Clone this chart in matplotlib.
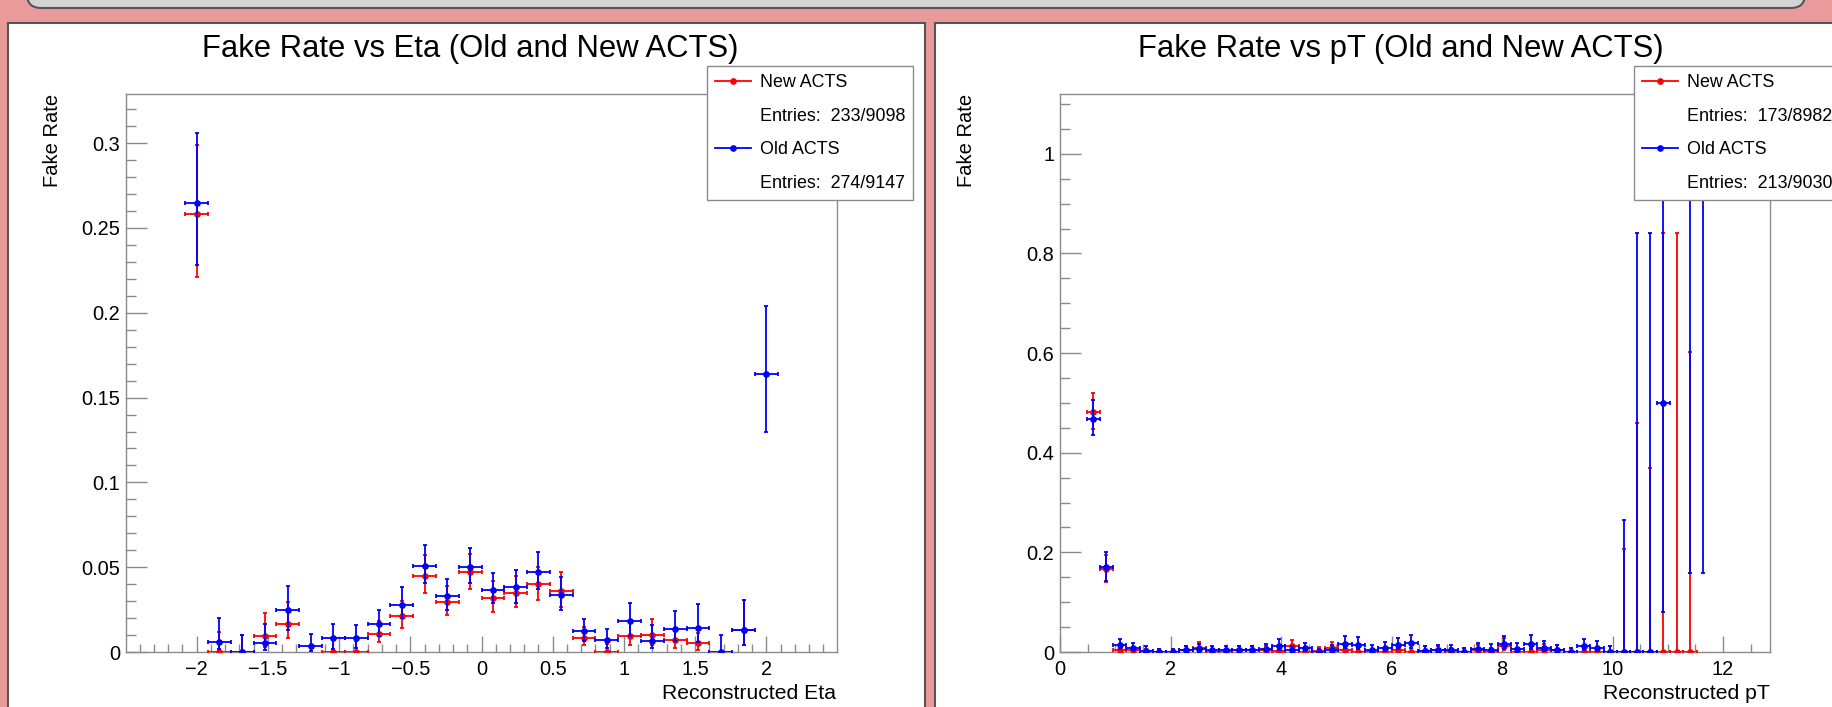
import numpy as np
import matplotlib
matplotlib.use('Agg')
import matplotlib.pyplot as plt
from matplotlib.patches import Rectangle, FancyBboxPatch
from matplotlib.lines import Line2D
from matplotlib.ticker import MultipleLocator, FuncFormatter
from matplotlib.transforms import IdentityTransform

plt.rcParams['font.family'] = ['Liberation Sans', 'DejaVu Sans']

# ---------------- data: fake rate vs eta ----------------
eta_centers = [-2.00, -1.84, -1.68, -1.52, -1.36, -1.20, -1.04, -0.88, -0.72, -0.56,
               -0.40, -0.24, -0.08, 0.08, 0.24, 0.40, 0.56, 0.72, 0.88, 1.04,
               1.20, 1.36, 1.52, 1.68, 1.84, 2.00]
eta_halfwidth = 0.08

eta_old = [0.265, 0.0060, 0.0, 0.0052, 0.0249, 0.0033, 0.0084, 0.0082, 0.0167, 0.0278,
           0.0506, 0.0331, 0.0502, 0.0368, 0.0384, 0.0470, 0.0339, 0.0122, 0.0069, 0.0181,
           0.0063, 0.0134, 0.0142, 0.0, 0.0132, 0.164]
eta_old_up = [0.041, 0.014, 0.0098, 0.0112, 0.014, 0.0075, 0.0083, 0.0078, 0.0082, 0.0108,
              0.0122, 0.0098, 0.0112, 0.0097, 0.0098, 0.0117, 0.0104, 0.0075, 0.0069, 0.0108,
              0.0094, 0.0106, 0.0143, 0.0098, 0.0177, 0.040]
eta_old_dn = [0.037, 0.004, 0.0, 0.0042, 0.012, 0.0029, 0.0064, 0.006, 0.0073, 0.0078,
              0.0102, 0.0081, 0.0098, 0.0079, 0.0093, 0.0096, 0.0089, 0.0059, 0.0045, 0.0087,
              0.0039, 0.0071, 0.0082, 0.0, 0.0089, 0.034]

eta_new = [0.258, 0.0, 0.0, 0.0096, 0.0167, np.nan, 0.0, 0.0, 0.0108, 0.0212,
           0.0449, 0.0295, 0.0469, 0.0319, 0.0348, 0.0398, 0.0358, 0.0083, 0.0, 0.0094,
           0.0098, 0.0069, 0.0055, np.nan, 0.0132, np.nan]
eta_new_up = [0.041, 0.0115, 0.0098, 0.0133, 0.013, 0.0, 0.0069, 0.0063, 0.0074, 0.0086,
              0.012, 0.0095, 0.0106, 0.0101, 0.0099, 0.0104, 0.0111, 0.0065, 0.005, 0.0083,
              0.0099, 0.0069, 0.0057, 0.0, 0.0177, 0.0]
eta_new_dn = [0.037, 0.0, 0.0, 0.0066, 0.0085, 0.0, 0.0, 0.0, 0.0049, 0.0071,
              0.0099, 0.0078, 0.0095, 0.0083, 0.0082, 0.0093, 0.0092, 0.0044, 0.0, 0.0055,
              0.0058, 0.0045, 0.0041, 0.0, 0.0089, 0.0]

# ---------------- data: fake rate vs pT ----------------
pt_centers = [0.60, 0.84, 1.08, 1.32, 1.56, 1.80, 2.04, 2.28, 2.52, 2.76,
              3.00, 3.24, 3.48, 3.72, 3.96, 4.20, 4.44, 4.68, 4.92, 5.16,
              5.40, 5.64, 5.88, 6.12, 6.36, 6.60, 6.84, 7.08, 7.32, 7.56,
              7.80, 8.04, 8.28, 8.52, 8.76, 9.00, 9.24, 9.48, 9.72, 9.96,
              10.20, 10.44, 10.68, 10.92, 11.16, 11.40, 11.64]
pt_halfwidth = 0.12

pt_old = [0.468, 0.170, 0.014, 0.009, 0.003, 0.0, 0.0, 0.004, 0.006, 0.004,
          0.004, 0.004, 0.004, 0.007, 0.013, 0.004, 0.008, 0.0, 0.005, 0.017,
          0.015, 0.004, 0.009, 0.014, 0.018, 0.003, 0.004, 0.004, 0.0, 0.007,
          0.005, 0.016, 0.006, 0.017, 0.009, 0.004, 0.0, 0.012, 0.009, 0.0,
          0.0, 0.0, 0.0, 0.500, np.nan, 1.0, 1.0]
pt_old_up = [0.037, 0.031, 0.013, 0.010, 0.009, 0.006, 0.006, 0.009, 0.010, 0.009,
             0.009, 0.009, 0.009, 0.010, 0.013, 0.009, 0.011, 0.007, 0.009, 0.015,
             0.015, 0.010, 0.012, 0.014, 0.016, 0.010, 0.010, 0.010, 0.008, 0.012,
             0.011, 0.016, 0.012, 0.017, 0.013, 0.011, 0.009, 0.015, 0.014, 0.013,
             0.265, 0.841, 0.841, 0.419, 0.0, 0.0, 0.0]
pt_old_dn = [0.033, 0.028, 0.007, 0.005, 0.003, 0.0, 0.0, 0.003, 0.005, 0.003,
             0.003, 0.003, 0.003, 0.005, 0.008, 0.003, 0.006, 0.0, 0.004, 0.009,
             0.009, 0.003, 0.006, 0.008, 0.010, 0.003, 0.003, 0.003, 0.0, 0.005,
             0.004, 0.009, 0.005, 0.010, 0.006, 0.003, 0.0, 0.008, 0.007, 0.0,
             0.0, 0.0, 0.0, 0.419, 0.0, 0.841, 0.841]

pt_new = [0.482, 0.167, 0.005, 0.004, 0.0, 0.0, 0.0, 0.004, 0.009, 0.0,
          0.0, 0.004, 0.004, 0.004, 0.003, 0.012, 0.0, 0.003, 0.009, 0.004,
          0.0, 0.0, 0.0, 0.004, 0.0, 0.003, 0.004, 0.0, 0.0, 0.005,
          0.0, 0.013, 0.0, 0.0, 0.005, 0.004, 0.0, 0.0, 0.0, 0.0,
          0.0, 0.0, 0.0, 0.0, 0.0, 0.0, np.nan]
pt_new_up = [0.037, 0.028, 0.007, 0.006, 0.006, 0.006, 0.005, 0.008, 0.012, 0.006,
             0.006, 0.008, 0.008, 0.008, 0.008, 0.012, 0.007, 0.008, 0.011, 0.009,
             0.007, 0.007, 0.007, 0.009, 0.008, 0.009, 0.009, 0.008, 0.008, 0.010,
             0.008, 0.015, 0.009, 0.009, 0.011, 0.011, 0.009, 0.010, 0.010, 0.012,
             0.206, 0.460, 0.370, 0.841, 0.841, 0.602, 0.0]
pt_new_dn = [0.034, 0.026, 0.003, 0.003, 0.0, 0.0, 0.0, 0.003, 0.006, 0.0,
             0.0, 0.003, 0.003, 0.003, 0.003, 0.007, 0.0, 0.003, 0.006, 0.003,
             0.0, 0.0, 0.0, 0.003, 0.0, 0.003, 0.003, 0.0, 0.0, 0.004,
             0.0, 0.008, 0.0, 0.0, 0.004, 0.003, 0.0, 0.0, 0.0, 0.0,
             0.0, 0.0, 0.0, 0.0, 0.0, 0.0, 0.0]

titles = ['Fake Rate vs Eta (Old and New ACTS)', 'Fake Rate vs pT (Old and New ACTS)']
xlabels = ['Reconstructed Eta', 'Reconstructed pT']
ylabel = 'Fake Rate'
series_names = ['New ACTS', 'Old ACTS']
entries_eta = ['Entries:  233/9098', 'Entries:  274/9147']
entries_pt = ['Entries:  173/8982', 'Entries:  213/9030']

# ---------------- styling ----------------
W, H = 1832, 707
PINK = '#e99a9a'
RED = '#ff0000'
BLUE = '#0000ff'
FRAME = '#8a8a8a'

fig = plt.figure(figsize=(W / 100, H / 100), dpi=100)
fig.patch.set_facecolor(PINK)


def frac(x0, y0, x1, y1):
    return [x0 / W, 1 - y1 / H, (x1 - x0) / W, (y1 - y0) / H]


# header box (rounded, mostly off-canvas)
hdr = FancyBboxPatch((27, H - 8), 1805 - 27, 60, boxstyle='round,pad=0,rounding_size=14',
                     transform=IdentityTransform(), facecolor='#d4d4d4',
                     edgecolor='#555555', linewidth=1.5, zorder=-5)
fig.patches.append(hdr)

# white pads
for (x0, x1) in [(8, 925), (935, 1860)]:
    r = Rectangle((x0 / W, -0.05), (x1 - x0) / W, (H - 23) / H + 0.05,
                  transform=fig.transFigure, facecolor='white', edgecolor='#555555',
                  linewidth=1.5, zorder=-5)
    fig.patches.append(r)


def fmt(v, _):
    s = '%g' % round(v, 6)
    if s == '-0':
        s = '0'
    return s.replace('-', '\u2212')


def style(ax, xlim, ylim, xmaj, xmin_, ymaj, ymin_):
    ax.set_xlim(*xlim)
    ax.set_ylim(*ylim)
    ax.xaxis.set_major_locator(MultipleLocator(xmaj))
    ax.xaxis.set_minor_locator(MultipleLocator(xmin_))
    ax.yaxis.set_major_locator(MultipleLocator(ymaj))
    ax.yaxis.set_minor_locator(MultipleLocator(ymin_))
    ax.xaxis.set_major_formatter(FuncFormatter(fmt))
    ax.yaxis.set_major_formatter(FuncFormatter(fmt))
    ax.tick_params(which='both', direction='in', top=False, right=False,
                   color=FRAME, width=1.0, labelsize=14.4, labelcolor='black')
    ax.tick_params(axis='y', which='major', length=15.0, pad=4)
    ax.tick_params(axis='y', which='minor', length=7.5)
    ax.tick_params(axis='x', which='major', length=11.8, pad=6)
    ax.tick_params(axis='x', which='minor', length=5.9)
    for s in ax.spines.values():
        s.set_color(FRAME)
        s.set_linewidth(1.0)
    ax.set_facecolor('none')


def draw(ax, x, y, dn, up, hw, color, z):
    x = np.asarray(x, float)
    y = np.asarray(y, float)
    dn = np.asarray(dn, float)
    up = np.asarray(up, float)
    m = ~np.isnan(y)
    ax.errorbar(x[m], y[m], xerr=hw, yerr=[dn[m], up[m]], fmt='o', ms=3.8,
                color=color, ecolor=color, elinewidth=1.3, capsize=1.6,
                capthick=1.3, zorder=z)


def legend(ax, x0, y0, entries):
    handles = [Line2D([], [], color=RED, lw=1.3, marker='o', ms=3.8),
               Line2D([], [], color='none'),
               Line2D([], [], color=BLUE, lw=1.3, marker='o', ms=3.8),
               Line2D([], [], color='none')]
    labels = [series_names[0], entries[0], series_names[1], entries[1]]
    leg = ax.legend(handles, labels, loc='upper left',
                    bbox_to_anchor=(x0 / W, 1 - y0 / H), bbox_transform=fig.transFigure,
                    frameon=True, fancybox=False, edgecolor=FRAME, framealpha=1,
                    fontsize=12.9, handlelength=2.0, handletextpad=0.5,
                    borderpad=0.45, labelspacing=0.92, borderaxespad=0, numpoints=1)
    leg.get_frame().set_linewidth(1.0)
    leg.set_zorder(20)


# ---------------- left: eta ----------------
axL = fig.add_axes(frac(126, 94, 837, 652))
style(axL, (-2.496, 2.496), (0, 0.329), 0.5, 0.1, 0.05, 0.01)
draw(axL, eta_centers, eta_new, eta_new_dn, eta_new_up, eta_halfwidth, RED, 3)
draw(axL, eta_centers, eta_old, eta_old_dn, eta_old_up, eta_halfwidth, BLUE, 4)
legend(axL, 707, 66, entries_eta)

# ---------------- right: pT ----------------
axR = fig.add_axes(frac(1060, 94, 1770, 652))
style(axR, (0, 12.85), (0, 1.12), 2, 0.5, 0.2, 0.05)
draw(axR, pt_centers, pt_new, pt_new_dn, pt_new_up, pt_halfwidth, RED, 3)
draw(axR, pt_centers, pt_old, pt_old_dn, pt_old_up, pt_halfwidth, BLUE, 4)
legend(axR, 1634, 66, entries_pt)

# ---------------- texts ----------------
fig.text(470 / W, 1 - 57 / H, titles[0], ha='center', va='baseline', fontsize=22.3)
fig.text(1401 / W, 1 - 57 / H, titles[1], ha='center', va='baseline', fontsize=22.3)
fig.text(836 / W, 1 - 699 / H, xlabels[0], ha='right', va='baseline', fontsize=15.2)
fig.text(1770 / W, 1 - 699 / H, xlabels[1], ha='right', va='baseline', fontsize=15.2)
fig.text(52 / W, 1 - 94 / H, ylabel, rotation=90, ha='center', va='top', fontsize=14.5)
fig.text(967 / W, 1 - 94 / H, ylabel, rotation=90, ha='center', va='top', fontsize=14.5)

fig.savefig('out.png', dpi=100, facecolor=fig.get_facecolor())
